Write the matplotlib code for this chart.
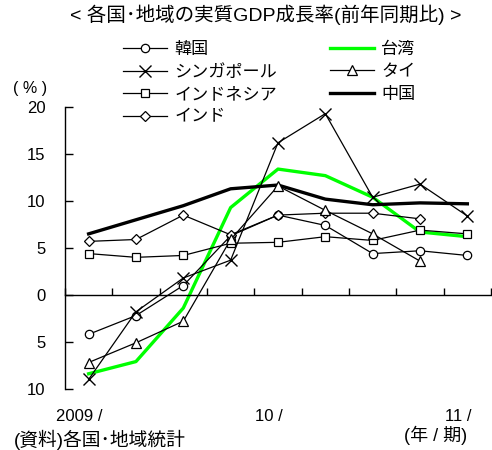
import numpy as np
import matplotlib
matplotlib.use('Agg')
import matplotlib.pyplot as plt

plt.rcParams['font.family'] = ['Liberation Sans', 'Noto Sans CJK JP', 'DejaVu Sans']

# 2009Q1 - 2011Q1, real GDP growth yoy (%)
quarters = list(range(9))
korea = [-4.2, -2.2, 1.0, 6.3, 8.5, 7.4, 4.4, 4.7, 4.2]
taiwan = [-8.4, -7.1, -1.4, 9.3, 13.4, 12.7, 10.4, 6.7, 6.2]
singapore = [-9.0, -1.8, 1.8, 3.7, 16.2, 19.3, 10.4, 11.8, 8.4]
thailand = [-7.2, -5.1, -2.8, 5.9, 11.6, 9.0, 6.5, 3.6]
indonesia = [4.4, 4.0, 4.2, 5.5, 5.6, 6.2, 5.8, 6.9, 6.5]
china = [6.5, 8.0, 9.5, 11.3, 11.7, 10.2, 9.6, 9.8, 9.7]
india = [5.7, 5.9, 8.5, 6.4, 8.5, 8.7, 8.7, 8.1]

xlabels = {0: '2009 /', 4: '10 /', 8: '11 /'}
yticks = [-10, -5, 0, 5, 10, 15, 20]
yticklabels = ['10', '5', '0', '5', '10', '15', '20']

fig = plt.figure(figsize=(4.92, 4.5), dpi=100)
ax = fig.add_axes([0.132, 0.136, 0.866, 0.626])

lw = 0.9
h_korea, = ax.plot(quarters, korea, color='black', lw=lw, marker='o', ms=6,
                   mfc='white', mec='black', mew=0.9, label='韓国', zorder=3)
h_sing, = ax.plot(quarters, singapore, color='black', lw=lw, marker='x', ms=8,
                  mew=1.0, label='シンガポール', zorder=3)
h_indo, = ax.plot(quarters, indonesia, color='black', lw=lw, marker='s', ms=6,
                  mfc='white', mec='black', mew=0.9, label='インドネシア', zorder=3)
h_india, = ax.plot(range(len(india)), india, color='black', lw=lw, marker='D', ms=5.5,
                   mfc='white', mec='black', mew=0.9, label='インド', zorder=3)
h_tw, = ax.plot(quarters, taiwan, color='#00ff00', lw=2.4, label='台湾', zorder=2)
h_thai, = ax.plot(range(len(thailand)), thailand, color='black', lw=lw, marker='^', ms=7,
                  mfc='white', mec='black', mew=0.9, label='タイ', zorder=3)
h_china, = ax.plot(quarters, china, color='black', lw=2.4, label='中国', zorder=2)

ax.set_xlim(-0.5, 8.5)
ax.set_ylim(-10, 20)
ax.spines['top'].set_visible(False)
ax.spines['right'].set_visible(False)
ax.spines['bottom'].set_position(('data', 0))
ax.spines['left'].set_bounds(-10, 20)
for s in ['left', 'bottom']:
    ax.spines[s].set_linewidth(1.0)

ax.set_yticks(yticks)
ax.set_yticklabels(yticklabels)
ax.tick_params(axis='y', direction='in', length=6, width=1, labelsize=12, pad=14)
ax.set_xticks(np.arange(-0.5, 9.0, 1.0))
ax.set_xticklabels([])
ax.tick_params(axis='x', direction='in', length=5, width=1)

for i, lab in xlabels.items():
    ax.text(i - 0.2, -0.1, lab, transform=ax.get_xaxis_transform(),
            ha='center', va='center', fontsize=12)

fig.legend([h_korea, h_sing, h_indo, h_india, h_tw, h_thai, h_china],
           ['韓国', 'シンガポール', 'インドネシア', 'インド', '台湾', 'タイ', '中国'],
           ncol=2, loc='upper left', bbox_to_anchor=(0.25, 0.907), frameon=False,
           fontsize=12.3, handlelength=2.6, handletextpad=0.4, columnspacing=3.1,
           labelspacing=0.42, borderpad=0, borderaxespad=0)

fig.text(0.54, 0.967, '< 各国･地域の実質GDP成長率(前年同期比) >', ha='center', va='center',
         fontsize=14)
fig.text(0.061, 0.804, '( % )', ha='center', va='center', fontsize=11.5)
fig.text(0.028, 0.022, '(資料)各国･地域統計', ha='left', va='center', fontsize=13.5)
fig.text(0.886, 0.033, '(年 / 期)', ha='center', va='center', fontsize=13)

fig.savefig('out.png', dpi=100)
